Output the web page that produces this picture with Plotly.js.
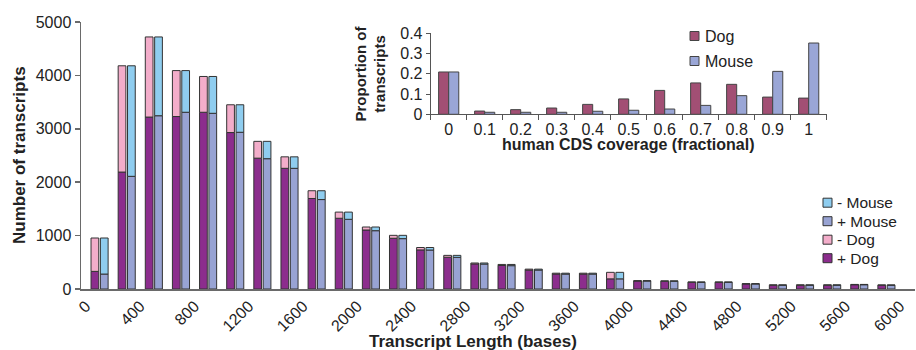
<!DOCTYPE html>
<html>
<head>
<meta charset="utf-8">
<script src="https://cdn.plot.ly/plotly-3.0.1.min.js"></script>
<style>html,body{margin:0;padding:0;background:#fff;}#chart{width:916px;height:350px;}</style>
</head>
<body>
<div id="chart"></div>
<script>
// ---- Main chart data (transcript length bins, start of each 200-base bin) ----
const binStart = [0,200,400,600,800,1000,1200,1400,1600,1800,2000,2200,2400,2600,2800,3000,3200,3400,3600,3800,4000,4200,4400,4600,4800,5000,5200,5400,5600,5800];
const dogPlus    = [330,2190,3220,3230,3310,2930,2450,2260,1695,1325,1105,950,732,595,470,440,355,280,280,190,150,145,125,125,95,70,70,70,80,70];
const dogMinus   = [625,1990,1500,860,670,520,315,215,145,115,56,55,45,35,17,20,17,16,16,122,6,7,7,7,5,8,8,8,6,6];
const mousePlus  = [280,2110,3245,3310,3290,2935,2440,2260,1675,1305,1092,943,730,593,468,437,355,280,280,190,150,145,125,125,95,70,70,70,80,70];
const mouseMinus = [675,2070,1475,780,690,515,325,215,165,135,69,62,47,37,19,23,17,16,16,122,6,7,7,7,5,8,8,8,6,6];
const xTickVals  = [0,400,800,1200,1600,2000,2400,2800,3200,3600,4000,4400,4800,5200,5600,6000];
const xTickText  = xTickVals.map(String);
const yTickVals  = [0,1000,2000,3000,4000,5000];

// ---- Inset data ----
const coverage   = ["0","0.1","0.2","0.3","0.4","0.5","0.6","0.7","0.8","0.9","1"];
const dogProp    = [0.209,0.016,0.023,0.031,0.049,0.076,0.118,0.155,0.148,0.085,0.080];
const mouseProp  = [0.209,0.010,0.010,0.010,0.015,0.020,0.026,0.044,0.092,0.212,0.352];
const insetYTicks = [0,0.1,0.2,0.3,0.4];
const insetYText  = ["0","0.1","0.2","0.3","0.4"];

// legend labels
const mainLegend  = ["- Mouse","+ Mouse","- Dog","+ Dog"];
const insetLegend = ["Dog","Mouse"];

// ---- styles ----
const C = {dogPlus:'#8c2d8d', dogMinus:'#f3adca', mousePlus:'#98a3d3', mouseMinus:'#8fcdef',
           insetDog:'#a24f74', insetMouse:'#9aa6d6', outline:'#333333', axis:'#6a6a6a', text:'#222222'};
const FONT = 'Liberation Sans, Arial, Helvetica, sans-serif';
const W = 916, H = 350, L = 81, R = 1, T = 22, B = 61;
const PW = W - L - R, PH = H - T - B;
const fx = px => (px - L) / PW;
const fy = py => (H - B - py) / PH;

const centers = binStart.map(v => v + 100);
const bw = 57;
const line = {color: C.outline, width: 1};

const traces = [
  {type:'bar', x:centers, y:dogPlus, width:bw, offset:-63, marker:{color:C.dogPlus, line:line}, name:'+ Dog', xaxis:'x', yaxis:'y', hoverinfo:'skip'},
  {type:'bar', x:centers, y:dogMinus, base:dogPlus, width:bw, offset:-63, marker:{color:C.dogMinus, line:line}, name:'- Dog', xaxis:'x', yaxis:'y', hoverinfo:'skip'},
  {type:'bar', x:centers, y:mousePlus, width:bw, offset:6, marker:{color:C.mousePlus, line:line}, name:'+ Mouse', xaxis:'x', yaxis:'y', hoverinfo:'skip'},
  {type:'bar', x:centers, y:mouseMinus, base:mousePlus, width:bw, offset:6, marker:{color:C.mouseMinus, line:line}, name:'- Mouse', xaxis:'x', yaxis:'y', hoverinfo:'skip'},
  {type:'bar', x:coverage, y:dogProp, width:0.28, offset:-0.28, marker:{color:C.insetDog, line:{color:'#444', width:1}}, name:'Dog', xaxis:'x2', yaxis:'y2', hoverinfo:'skip'},
  {type:'bar', x:coverage, y:mouseProp, width:0.28, offset:0, marker:{color:C.insetMouse, line:{color:'#444', width:1}}, name:'Mouse', xaxis:'x2', yaxis:'y2', hoverinfo:'skip'}
];

const shapes = [];
const annotations = [];

// main legend
const mainColors = [C.mouseMinus, C.mousePlus, C.dogMinus, C.dogPlus];
const mainRowY = [202.7, 221.2, 239.7, 258.2];
mainLegend.forEach((lab, i) => {
  const cy = mainRowY[i];
  shapes.push({type:'rect', xref:'paper', yref:'paper', x0:fx(823), x1:fx(832), y0:fy(cy+4.5), y1:fy(cy-4.5),
               fillcolor:mainColors[i], line:{color:C.outline, width:1}});
  annotations.push({xref:'paper', yref:'paper', x:fx(835), y:fy(cy), xanchor:'left', yanchor:'middle', showarrow:false,
                    text:lab, font:{family:FONT, size:15.5, color:C.text}});
});
// inset legend
const insetColors = [C.insetDog, C.insetMouse];
const insetRowY = [36, 61];
insetLegend.forEach((lab, i) => {
  const cy = insetRowY[i];
  shapes.push({type:'rect', xref:'paper', yref:'paper', x0:fx(690), x1:fx(699), y0:fy(cy+4.5), y1:fy(cy-4.5),
               fillcolor:insetColors[i], line:{color:'#444', width:1}});
  annotations.push({xref:'paper', yref:'paper', x:fx(703), y:fy(cy), xanchor:'left', yanchor:'middle', showarrow:false,
                    text:lab, font:{family:FONT, size:16, color:C.text}});
});

// titles
annotations.push({xref:'paper', yref:'paper', x:fx(19.5), y:fy(155.5), xanchor:'center', yanchor:'middle', textangle:-90,
                  showarrow:false, text:'<b>Number of transcripts</b>', font:{family:FONT, size:17, color:C.text}});
annotations.push({xref:'paper', yref:'paper', x:fx(473), y:fy(341), xanchor:'center', yanchor:'middle',
                  showarrow:false, text:'<b>Transcript Length (bases)</b>', font:{family:FONT, size:17, color:C.text}});
annotations.push({xref:'paper', yref:'paper', x:fx(369.5), y:fy(74), xanchor:'center', yanchor:'middle', textangle:-90,
                  showarrow:false, text:'<b>Proportion of<br>transcripts</b>', font:{family:FONT, size:15, color:C.text}});
annotations.push({xref:'paper', yref:'paper', x:fx(628), y:fy(144), xanchor:'center', yanchor:'middle',
                  showarrow:false, text:'<b>human CDS coverage (fractional)</b>', font:{family:FONT, size:16, color:C.text}});

const layout = {
  width:W, height:H, margin:{l:L, r:R, t:T, b:B, pad:0},
  paper_bgcolor:'#ffffff', plot_bgcolor:'rgba(0,0,0,0)',
  font:{family:FONT, color:C.text},
  barmode:'overlay', showlegend:false,
  xaxis:{domain:[0,1], range:[-36.9, 6110.6], tickvals:xTickVals, ticktext:xTickText, tickangle:-45,
         ticks:'', showline:true, linecolor:C.axis, linewidth:1.5, showgrid:false, zeroline:false,
         tickfont:{family:FONT, size:16, color:C.text}, fixedrange:true},
  yaxis:{domain:[0,1], range:[0,5000], tickvals:yTickVals, ticks:'outside', ticklen:5, tickcolor:C.axis, tickwidth:1.5,
         showline:true, linecolor:C.axis, linewidth:1.5, showgrid:false, zeroline:false,
         tickfont:{family:FONT, size:16, color:C.text}, fixedrange:true},
  xaxis2:{domain:[fx(430.7), fx(826.7)], anchor:'y2', type:'category', categoryorder:'array', categoryarray:coverage,
          range:[-0.5,10.5], tickson:'boundaries', ticks:'outside', ticklen:5, tickcolor:'#555', tickwidth:1,
          showline:true, linecolor:'#555', linewidth:1, showgrid:false, zeroline:false,
          tickfont:{family:FONT, size:16, color:C.text}, fixedrange:true},
  yaxis2:{domain:[fy(114.3), fy(33.3)], anchor:'x2', range:[0,0.4], tickvals:insetYTicks, ticktext:insetYText,
          ticks:'outside', ticklen:4, tickcolor:'#555', tickwidth:1,
          showline:true, linecolor:'#555', linewidth:1, showgrid:false, zeroline:false,
          tickfont:{family:FONT, size:16, color:C.text}, fixedrange:true},
  shapes:shapes, annotations:annotations
};

Plotly.newPlot('chart', traces, layout, {staticPlot:true, displayModeBar:false});
</script>
</body>
</html>
